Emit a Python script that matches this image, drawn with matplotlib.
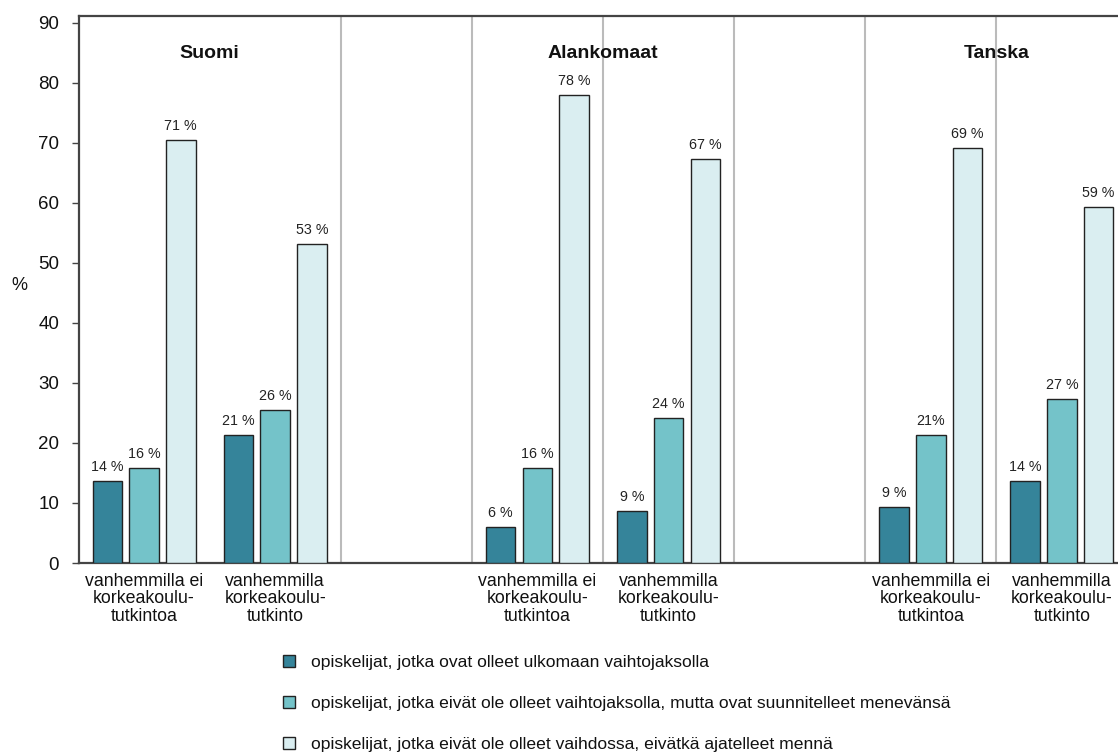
import matplotlib
matplotlib.use("Agg")
import matplotlib.pyplot as plt
import numpy as np

plt.rcParams['font.family'] = ['Liberation Sans', 'DejaVu Sans']

countries = ["Suomi", "Alankomaat", "Tanska"]
group_labels = ["vanhemmilla ei\nkorkeakoulu-\ntutkintoa",
                "vanhemmilla\nkorkeakoulu-\ntutkinto"]
series_names = [
    "opiskelijat, jotka ovat olleet ulkomaan vaihtojaksolla",
    "opiskelijat, jotka eivät ole olleet vaihtojaksolla, mutta ovat suunnitelleet menevänsä",
    "opiskelijat, jotka eivät ole olleet vaihdossa, eivätkä ajatelleet mennä",
]
# order: Suomi ei, Suomi tutkinto, Alankomaat ei, Alankomaat tutkinto, Tanska ei, Tanska tutkinto
vaihdossa = [13.7, 21.3, 6.0, 8.7, 9.4, 13.6]
suunnitelleet = [15.8, 25.5, 15.9, 24.2, 21.4, 27.3]
ei_ajatelleet = [70.5, 53.1, 78.0, 67.3, 69.2, 59.3]
labels_vaihdossa = ["14 %", "21 %", "6 %", "9 %", "9 %", "14 %"]
labels_suunn = ["16 %", "26 %", "16 %", "24 %", "21%", "27 %"]
labels_ei = ["71 %", "53 %", "78 %", "67 %", "69 %", "59 %"]
yticks = [0, 10, 20, 30, 40, 50, 60, 70, 80, 90]

colors = ["#35849A", "#74C3C9", "#DAEEF1"]

W, H = 1118, 753
fig = plt.figure(figsize=(W / 100, H / 100), dpi=100)
ax = fig.add_axes([78.5 / W, 1 - 563 / H, (1127.5 - 78.5) / W, (563 - 15.7) / H])

# slot positions: two groups per country, empty slot between countries
slots = [0, 1, 3, 4, 6, 7]
pos = np.array(slots, dtype=float)
width = 0.225
off = 0.28
series = [vaihdossa, suunnitelleet, ei_ajatelleet]
series_labels = [labels_vaihdossa, labels_suunn, labels_ei]
handles = []
for i, (vals, labs) in enumerate(zip(series, series_labels)):
    x = pos + (i - 1) * off
    bars = ax.bar(x, vals, width=width, color=colors[i], edgecolor="#222222",
                  linewidth=1.0, zorder=3, label=series_names[i])
    handles.append(bars)
    for b, lab in zip(bars, labs):
        ax.annotate(lab, (b.get_x() + b.get_width() / 2, b.get_height()),
                    xytext=(0, 5), textcoords="offset points",
                    ha="center", va="bottom", fontsize=10.3, color="#222222")

# separator lines
for xb in [1.5, 2.5, 3.5, 4.5, 5.5, 6.5]:
    ax.axvline(xb, color="#BBBBBB", linewidth=1.5, zorder=1)

# country titles
for c, xc in zip(countries, [0.5, 3.5, 6.5]):
    ax.text(xc, 84.9, c, ha="center", va="center", fontsize=14,
            fontweight="bold", color="#111111", zorder=4)

ax.set_xlim(-0.5, 7.5)
ax.set_ylim(0, 91.2)
ax.set_yticks(yticks)
ax.set_yticklabels([str(t) for t in yticks], fontsize=13.5, color="#111111")
ax.set_xticks(pos)
ax.set_xticklabels([group_labels[j % 2] for j in range(6)], fontsize=12.8,
                   color="#111111", linespacing=1.05)
ax.tick_params(axis="x", length=0, pad=7)
ax.tick_params(axis="y", length=5, width=1, color="#444444", pad=9)

for s in ["left", "top", "bottom", "right"]:
    ax.spines[s].set_color("#444444")
    ax.spines[s].set_linewidth(1.6)

fig.text(19 / W, 1 - 286 / H, "%", ha="center", va="center", fontsize=13,
         color="#111111")

leg = fig.legend(handles=handles, labels=series_names, loc="upper left",
                 bbox_to_anchor=(283 / W, 1 - 655 / H), frameon=False,
                 fontsize=12.6, handlelength=0.67, handleheight=0.67,
                 handletextpad=0.95, labelspacing=1.47, borderpad=0,
                 borderaxespad=0)
for t in leg.get_texts():
    t.set_color("#111111")

fig.savefig("out.png", dpi=100)
